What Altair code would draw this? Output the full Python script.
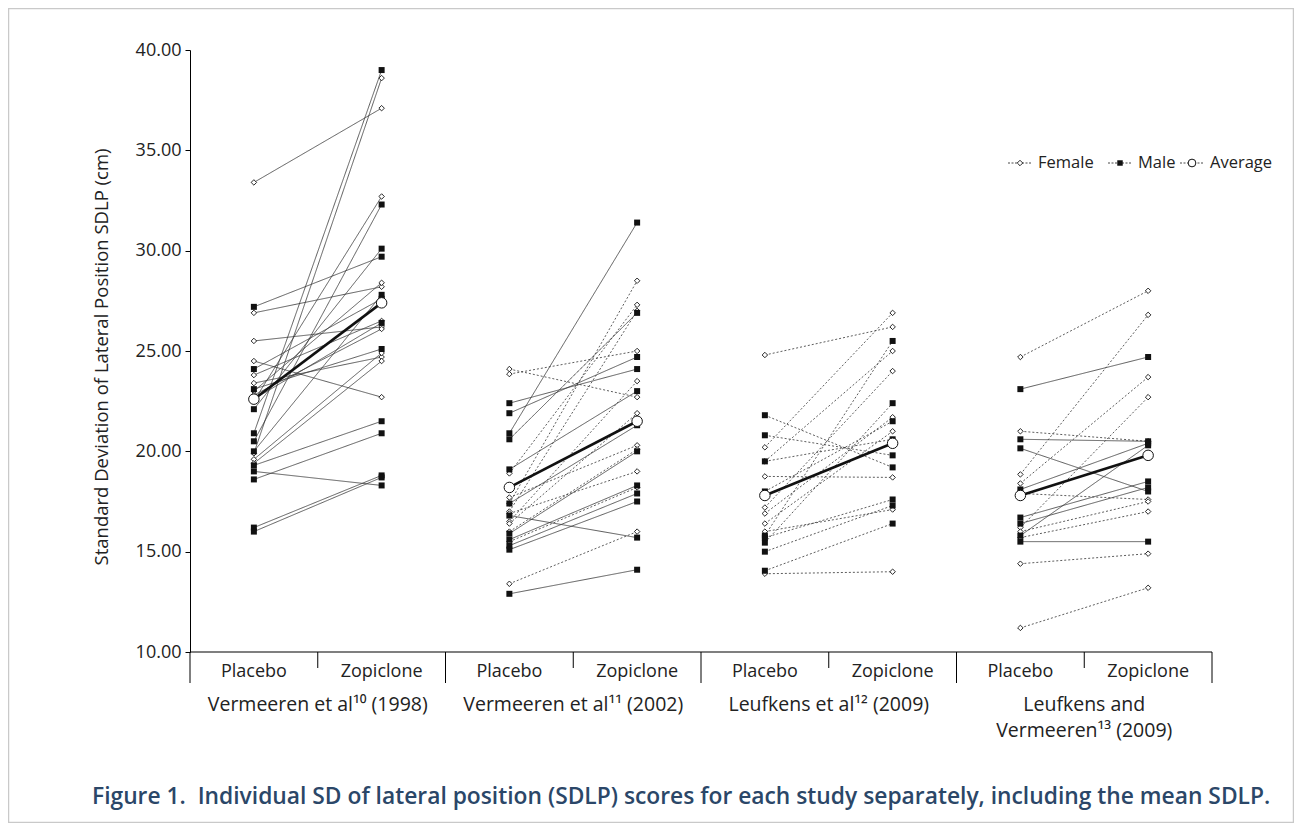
import altair as alt
import pandas as pd

# ---------------- data ----------------
studies = ["Vermeeren et al¹⁰ (1998)", "Vermeeren et al¹¹ (2002)",
           "Leufkens et al¹² (2009)", "Leufkens and|Vermeeren¹³ (2009)"]
conditions = ["Placebo", "Zopiclone"]

s1_f_placebo = [33.4, 26.9, 25.5, 24.5, 23.8, 23.4, 23.0, 22.8, 22.5, 19.9, 19.6, 19.4]
s1_f_zopiclone = [37.1, 28.2, 26.2, 22.7, 26.5, 24.7, 28.4, 26.1, 32.7, 38.6, 24.9, 24.5]
s1_m_placebo = [27.2, 24.1, 23.1, 22.6, 22.1, 20.9, 20.5, 20.0, 19.3, 19.0, 18.6, 16.2, 16.0]
s1_m_zopiclone = [29.7, 27.6, 25.1, 26.4, 30.1, 39.0, 32.3, 27.8, 21.5, 18.3, 20.9, 18.8, 18.7]
s1_avg = [22.6, 27.4]

s2_f_placebo = [24.1, 23.85, 18.9, 17.7, 17.4, 17.0, 16.9, 16.5, 16.4, 16.0, 15.5, 13.4]
s2_f_zopiclone = [22.7, 25.0, 27.3, 20.3, 28.5, 27.0, 19.0, 23.5, 21.9, 20.1, 18.2, 16.0]
s2_m_placebo = [22.4, 21.9, 20.9, 20.6, 19.1, 17.4, 16.8, 15.9, 15.6, 15.3, 15.1, 12.9]
s2_m_zopiclone = [24.1, 24.7, 31.4, 26.9, 23.0, 21.3, 15.7, 20.0, 18.3, 17.9, 17.5, 14.1]
s2_avg = [18.2, 21.5]

s3_f_placebo = [24.8, 20.2, 19.5, 18.75, 17.2, 16.9, 16.4, 16.0, 13.9]
s3_f_zopiclone = [26.2, 26.9, 25.0, 18.7, 24.0, 21.7, 21.0, 17.1, 14.0]
s3_m_placebo = [21.8, 20.8, 19.5, 18.0, 15.8, 15.7, 15.45, 15.0, 14.05]
s3_m_zopiclone = [19.2, 19.8, 20.6, 21.5, 25.5, 17.6, 22.4, 17.3, 16.4]
s3_avg = [17.8, 20.4]

s4_f_placebo = [24.7, 21.0, 18.85, 18.4, 17.9, 16.2, 16.0, 15.7, 14.4, 11.2]
s4_f_zopiclone = [28.0, 20.5, 26.8, 23.7, 17.6, 22.7, 17.5, 17.0, 14.9, 13.2]
s4_m_placebo = [23.1, 20.6, 20.15, 18.1, 16.7, 16.4, 15.8, 15.5]
s4_m_zopiclone = [24.7, 20.5, 18.0, 20.4, 18.5, 18.2, 20.3, 15.5]
s4_avg = [17.8, 19.8]

# line style per study: (female, male)
line_styles = [("solid", "solid"), ("dotted", "solid"), ("dotted", "dotted"), ("dotted", "solid")]

y_ticks = [10, 15, 20, 25, 30, 35, 40]
y_title = "Standard Deviation of Lateral Position SDLP (cm)"
caption = "Figure 1.\u00a0 Individual SD of lateral position (SDLP) scores for each study separately, including the mean SDLP."
legend_labels = ["Female", "Male", "Average"]

# ---------------- tables ----------------
groups = [
    (s1_f_placebo, s1_f_zopiclone, s1_m_placebo, s1_m_zopiclone, s1_avg),
    (s2_f_placebo, s2_f_zopiclone, s2_m_placebo, s2_m_zopiclone, s2_avg),
    (s3_f_placebo, s3_f_zopiclone, s3_m_placebo, s3_m_zopiclone, s3_avg),
    (s4_f_placebo, s4_f_zopiclone, s4_m_placebo, s4_m_zopiclone, s4_avg),
]
rows, avg_rows = [], []
for s, (fp, fz, mp, mz, av) in enumerate(groups):
    for sex, pl, zo, sty in (("F", fp, fz, line_styles[s][0]), ("M", mp, mz, line_styles[s][1])):
        for i, (a, b) in enumerate(zip(pl, zo)):
            pid = f"{s}-{sex}-{i}"
            rows.append(dict(id=pid, pos=2 * s + 0.5, value=a, sex=sex, style=sty))
            rows.append(dict(id=pid, pos=2 * s + 1.5, value=b, sex=sex, style=sty))
    avg_rows.append(dict(id=f"a{s}", pos=2 * s + 0.5, value=av[0]))
    avg_rows.append(dict(id=f"a{s}", pos=2 * s + 1.5, value=av[1]))
df = pd.DataFrame(rows)
dfa = pd.DataFrame(avg_rows)

cond_df = pd.DataFrame({"pos": [i + 0.5 for i in range(8)], "label": conditions * 4})
line0, line1 = [], []
for s, name in enumerate(studies):
    parts = name.split("|")
    line0.append(dict(pos=2 * s + 1, label=parts[0]))
    if len(parts) > 1:
        line1.append(dict(pos=2 * s + 1, label=parts[1]))
study0 = pd.DataFrame(line0)
study1 = pd.DataFrame(line1)
long_sep = pd.DataFrame({"pos": [0, 2, 4, 6, 8]})
short_sep = pd.DataFrame({"pos": [1, 3, 5, 7]})

FONT = "Open Sans"
W, H = 1022, 602
xs = alt.Scale(domain=[0, 8], nice=False, zero=False)
ys = alt.Scale(domain=[10, 40], nice=False, zero=False)
X = alt.X("pos:Q", scale=xs, axis=None)
Y = alt.Y("value:Q", scale=ys,
          axis=alt.Axis(values=y_ticks, format=".2f", title=None, grid=False,
                        labelFont=FONT, labelFontSize=18, labelColor="#222",
                        labelPadding=4, tickSize=5, tickColor="#000",
                        domainColor="#000", domainWidth=1))

lines = alt.Chart(df).mark_line(strokeWidth=0.8, color="#333").encode(
    x=X, y=Y, detail="id:N",
    strokeDash=alt.StrokeDash("style:N", scale=alt.Scale(domain=["solid", "dotted"], range=[[1, 0], [2, 2]]), legend=None),
)
fem = alt.Chart(df[df.sex == "F"]).mark_point(shape="diamond", filled=True, fill="white",
                                              stroke="#111", strokeWidth=0.9, size=30, opacity=1).encode(x=X, y=Y)
mal = alt.Chart(df[df.sex == "M"]).mark_square(size=36, color="#111", opacity=1).encode(x=X, y=Y)
avg_line = alt.Chart(dfa).mark_line(strokeWidth=2.6, color="#111").encode(x=X, y=Y, detail="id:N")
avg_pt = alt.Chart(dfa).mark_point(shape="circle", filled=True, fill="white", stroke="#111",
                                   strokeWidth=1, size=110, opacity=1).encode(x=X, y=Y)

# x axis decorations
base_line = alt.Chart(pd.DataFrame({"a": [0], "b": [8]})).mark_rule(color="#000", strokeWidth=1.2).encode(
    x=alt.X("a:Q", scale=xs, axis=None), x2="b:Q", y=alt.value(H))
seps_long = alt.Chart(long_sep).mark_rule(color="#000", strokeWidth=1).encode(
    x=X, y=alt.value(H), y2=alt.value(H + 31))
seps_short = alt.Chart(short_sep).mark_rule(color="#000", strokeWidth=1).encode(
    x=X, y=alt.value(H), y2=alt.value(H + 16))
cond_text = alt.Chart(cond_df).mark_text(font=FONT, fontSize=18, color="#222", baseline="middle").encode(
    x=X, y=alt.value(H + 20), text="label:N")
study_text0 = alt.Chart(study0).mark_text(font=FONT, fontSize=19.5, color="#222", baseline="middle").encode(
    x=X, y=alt.value(H + 53), text="label:N")
study_text1 = alt.Chart(study1).mark_text(font=FONT, fontSize=19.5, color="#222", baseline="middle").encode(
    x=X, y=alt.value(H + 79), text="label:N")

ytitle = alt.Chart(pd.DataFrame({"t": [y_title]})).mark_text(
    font=FONT, fontSize=18.5, color="#222", angle=270, baseline="middle", align="center").encode(
    text="t:N", x=alt.value(-88), y=alt.value(307))
cap = alt.Chart(pd.DataFrame({"t": [caption]})).mark_text(
    font=FONT, fontSize=22.8, fontWeight=600, color="#2b4768", align="left", baseline="middle").encode(
    text="t:N", x=alt.value(-98), y=alt.value(747))
frame = alt.Chart(pd.DataFrame({"t": [0]})).mark_rect(fillOpacity=0, stroke="#c9c9c9", strokeWidth=1.5).encode(
    x=alt.value(-181.5), x2=alt.value(1103.5), y=alt.value(-41.5), y2=alt.value(772.5))

# legend (drawn by hand)
LY = 113
leg_pos = [818, 918, 990]
leg_lines = [alt.Chart(pd.DataFrame({"t": [0]})).mark_rule(color="#333", strokeWidth=0.9, strokeDash=[2, 1.5]).encode(
    x=alt.value(p), x2=alt.value(p + 24), y=alt.value(LY)) for p in leg_pos]
leg_syms = [
    alt.Chart(pd.DataFrame({"t": [0]})).mark_point(shape="diamond", filled=True, fill="white", stroke="#111",
                                                   strokeWidth=0.9, size=30, opacity=1).encode(x=alt.value(leg_pos[0] + 12), y=alt.value(LY)),
    alt.Chart(pd.DataFrame({"t": [0]})).mark_square(size=30, color="#111", opacity=1).encode(
        x=alt.value(leg_pos[1] + 12), y=alt.value(LY)),
    alt.Chart(pd.DataFrame({"t": [0]})).mark_point(shape="circle", filled=True, fill="white", stroke="#111",
                                                   strokeWidth=1, size=60, opacity=1).encode(x=alt.value(leg_pos[2] + 12), y=alt.value(LY)),
]
leg_text = [alt.Chart(pd.DataFrame({"t": [lab]})).mark_text(font=FONT, fontSize=16.5, color="#222", align="left",
                                                            baseline="middle").encode(
    text="t:N", x=alt.value(p + 30), y=alt.value(LY)) for lab, p in zip(legend_labels, leg_pos)]

chart = alt.layer(
    frame, lines, avg_line, fem, mal, avg_pt,
    base_line, seps_long, seps_short, cond_text, study_text0, study_text1, ytitle, cap,
    *leg_lines, *leg_syms, *leg_text,
).properties(
    width=W, height=H,
    autosize=alt.AutoSizeParams(type="none"),
    padding={"left": 182, "top": 42, "right": 82, "bottom": 171},
    background="white",
).configure_view(strokeWidth=0)

chart.save("out.html", embed_options={"renderer": "svg", "actions": False})
